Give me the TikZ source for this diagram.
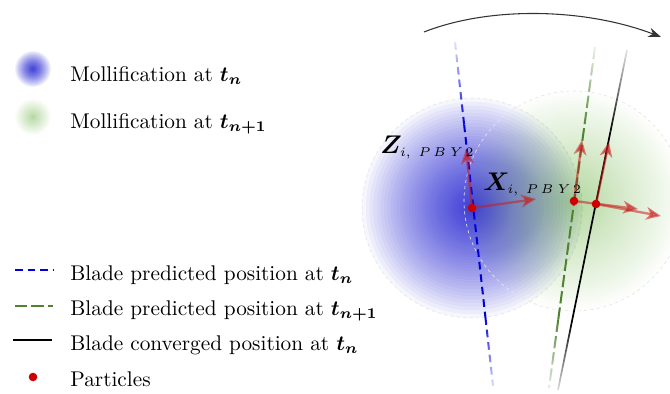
\documentclass[tikz,border=0pt]{standalone}
\usepackage{bm}
\usetikzlibrary{arrows.meta,fadings,calc}
\definecolor{blobblue}{RGB}{40,40,210}
\definecolor{blobgreen}{RGB}{110,180,70}
\definecolor{bladegreen}{RGB}{80,130,50}
\definecolor{partred}{RGB}{204,0,0}
\definecolor{vecred}{RGB}{200,30,30}
\tikzfading[name=fadetop, top color=transparent!90, bottom color=transparent!0]
\tikzfading[name=fadebot, top color=transparent!0, bottom color=transparent!88]
\begin{document}
\begin{tikzpicture}[x=0.47pt,y=-0.47pt,
  rim/.style={black!10, line width=0.3pt, dash pattern=on 1.5pt off 1.5pt},
  bluedash/.style={blue!85!black, line width=0.95pt, dash pattern=on 3.6pt off 2.3pt},
  greendash/.style={bladegreen, line width=0.95pt, dash pattern=on 5.8pt off 1.9pt},
  blacksolid/.style={black, line width=0.8pt},
  vec/.style={vecred, draw opacity=0.55, fill opacity=0.55, line width=1.1pt,
    -{Stealth[length=7pt,width=6pt,inset=2pt]}},
  particle/.style={partred},
  legtext/.style={anchor=base west, inner sep=0pt, font=\normalsize},
  lab/.style={anchor=base west, inner sep=0pt, font=\fontsize{11.5}{13}\selectfont}]
\useasboundingbox (0,0) rectangle (670,393);

% --- mollification blobs ---
\foreach \k in {1,...,60}{
  \pgfmathsetmacro\rr{110*(\k/60)^2.1}
  \fill[blobblue, fill opacity=0.042] (472,208) circle (\rr);
}
\draw[rim] (472,208) circle (110);
\foreach \k in {1,...,50}{
  \pgfmathsetmacro\rr{110*(\k/50)^1.5}
  \fill[blobgreen, fill opacity=0.017] (574,201) circle (\rr);
}
\draw[rim] (574,201) circle (110);

% legend blobs
\foreach \k in {1,...,40}{
  \pgfmathsetmacro\rr{18*(\k/40)^2.1}
  \fill[blobblue, fill opacity=0.062] (33,69) circle (\rr);
}
\foreach \k in {1,...,40}{
  \pgfmathsetmacro\rr{18*(\k/40)^1.5}
  \fill[blobgreen, fill opacity=0.02] (33,117) circle (\rr);
}

% --- blades ---
\coordinate (bA) at (455,42);  \coordinate (bB) at (493,386);
\coordinate (gA) at (595,47);  \coordinate (gB) at (549,388);
\coordinate (kA) at (627,50);  \coordinate (kB) at (558,390);
\coordinate (b1) at ($(bA)!0.24!(bB)$); \coordinate (b2) at ($(bA)!0.8!(bB)$);
\coordinate (g1) at ($(gA)!0.24!(gB)$); \coordinate (g2) at ($(gA)!0.8!(gB)$);
\coordinate (k1) at ($(kA)!0.24!(kB)$); \coordinate (k2) at ($(kA)!0.8!(kB)$);
\draw[bluedash, path fading=fadetop] (bA) -- (b1);
\draw[bluedash] (b1) -- (b2);
\draw[bluedash, path fading=fadebot] (b2) -- (bB);
\draw[greendash, path fading=fadetop] (gA) -- (g1);
\draw[greendash] (g1) -- (g2);
\draw[greendash, path fading=fadebot] (g2) -- (gB);
\draw[blacksolid, path fading=fadetop] (kA) -- (k1);
\draw[blacksolid] (k1) -- (k2);
\draw[blacksolid, path fading=fadebot] (k2) -- (kB);

% --- rotation arc ---
\coordinate (arcS) at (424,32);
\coordinate (arcE) at (661,37);
\draw[black!80, line width=0.5pt, -{Stealth[length=6pt,width=4.5pt]}]
  (arcS) .. controls (490,6) and (585,8) .. (arcE);

% --- particles and vectors ---
\coordinate (pb) at (472,208);
\coordinate (pg) at (574,201);
\coordinate (pk) at (596,204);
\coordinate (pbx) at (536,199);
\coordinate (pbz) at (466,149);
\coordinate (pgx) at (638,209);
\coordinate (pgz) at (582,140);
\coordinate (pkx) at (661,216);
\coordinate (pkz) at (609,142);
\draw[vec] (pb) -- (pbx);
\draw[vec] (pb) -- (pbz);
\draw[vec] (pg) -- (pgx);
\draw[vec] (pg) -- (pgz);
\draw[vec] (pk) -- (pkx);
\draw[vec] (pk) -- (pkz);
\fill[particle] (pb) circle (4.3);
\fill[particle] (pg) circle (4.3);
\fill[particle] (pk) circle (4.3);

% --- labels ---
\node[lab] (zlab) at (380,153) {$\bm{Z}_{\scriptscriptstyle i,\ P\,B\;Y\,2}$};
\node[lab] (xlab) at (483,190) {$\bm{X}_{\scriptscriptstyle i,\ P\,B\;Y\,2}$};

% --- legend ---
\node[legtext] (l1) at (70,81) {Mollification at $\bm{t_n}$};
\node[legtext] (l2) at (70,128) {Mollification at $\bm{t_{n+1}}$};
\coordinate (la1) at (15,270); \coordinate (lb1) at (53,270);
\coordinate (la2) at (15,306); \coordinate (lb2) at (53,306);
\coordinate (la3) at (13,340); \coordinate (lb3) at (52,340);
\draw[bluedash] (la1) -- (lb1);
\draw[greendash] (la2) -- (lb2);
\draw[blacksolid] (la3) -- (lb3);
\fill[particle] (33,377) circle (4.3);
\node[legtext] (l3) at (70,280) {Blade predicted position at $\bm{t_n}$};
\node[legtext] (l4) at (70,315) {Blade predicted position at $\bm{t_{n+1}}$};
\node[legtext] (l5) at (70,350) {Blade converged position at $\bm{t_n}$};
\node[legtext] (l6) at (70,386) {Particles};
\end{tikzpicture}
\end{document}
